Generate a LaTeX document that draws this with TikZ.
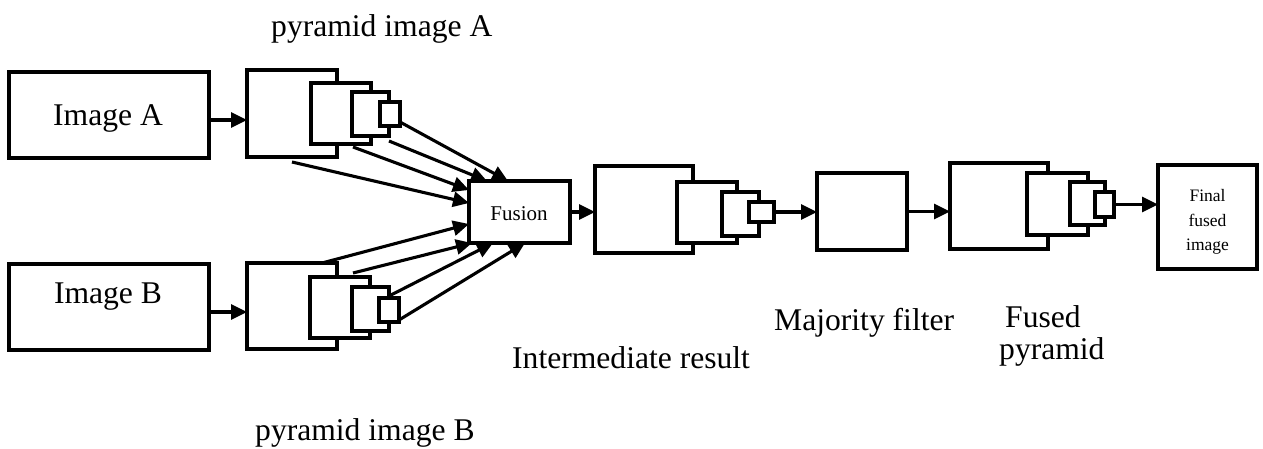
\documentclass[tikz,border=0pt]{standalone}
\usepackage{fontspec}
\setmainfont{Liberation Serif}
\usetikzlibrary{arrows.meta,calc}
\newcommand{\mybox}[5]{\node[bx, minimum width={#4-#2}, minimum height={#5-#3}] (#1) at (#2,#3) {};}
\begin{document}
\begin{tikzpicture}[x=1pt,y=-1pt,
  bx/.style={draw, line width=3.1pt, fill=white, inner sep=0pt, outer sep=0pt, anchor=north west},
  arr/.style={line width=3.1pt, -{Triangle[length=16pt,width=15pt]}},
  lbl/.style={inner sep=0pt, font=\fontsize{31.6}{36}\selectfont},
  sm/.style={inner sep=0pt, font=\fontsize{17.5}{24}\selectfont},
  fs/.style={inner sep=0pt, font=\fontsize{21}{25}\selectfont}]
\useasboundingbox (0,0) rectangle (1263,449);
% input images
\mybox{imgA}{9}{72}{209}{158}
\mybox{imgB}{9}{264}{209}{350}
% pyramid A
\mybox{pA1}{247}{70}{337}{157}
\mybox{pA2}{311}{83}{371}{144}
\mybox{pA3}{352}{92}{389}{136}
\mybox{pA4}{380}{102}{400}{126}
% pyramid B
\mybox{pB1}{247}{263}{337}{349}
\mybox{pB2}{310}{277}{370}{338}
\mybox{pB3}{352}{287}{389}{331}
\mybox{pB4}{379}{298}{399}{322}
% fusion
\mybox{fus}{469}{181}{570}{243}
% intermediate result
\mybox{iA1}{595}{166}{693}{253}
\mybox{iA2}{677}{182}{737}{243}
\mybox{iA3}{722}{192}{759}{236}
\mybox{iA4}{749}{202}{774}{222}
% majority filter
\mybox{maj}{817}{173}{907}{250}
% fused pyramid
\mybox{fp1}{950}{163}{1048}{249}
\mybox{fp2}{1027}{173}{1088}{235}
\mybox{fp3}{1070}{182}{1105}{225}
\mybox{fp4}{1095}{192}{1114}{217}
% final
\mybox{fin}{1158}{165}{1257}{269}
% connectors
\coordinate (yA) at (0,120);
\coordinate (yB) at (0,312);
\draw[arr] (imgA.east |- yA) -- (pA1.west |- yA);
\draw[arr] (imgB.east |- yB) -- (pB1.west |- yB);
\draw[arr] ($(pA4.south east)+(0,-4)$) -- ($(fus.north west)+(39,0)$);
\draw[arr] ($(pA3.south east)+(0,5)$) -- ($(fus.north west)+(18,0)$);
\draw[arr] ($(pA2.south west)+(42,3)$) -- ($(fus.north west)+(0,9)$);
\draw[arr] ($(pA1.south west)+(45,5)$) -- ($(fus.north west)+(0,22)$);
\draw[arr] ($(pB1.north west)+(75,0)$) -- ($(fus.north west)+(0,43)$);
\draw[arr] ($(pB2.north west)+(43,-4)$) -- ($(fus.south west)+(3,0)$);
\draw[arr] ($(pB3.north east)+(0,9)$) -- ($(fus.south west)+(24,0)$);
\draw[arr] ($(pB4.south east)+(0,-2)$) -- ($(fus.south west)+(56,0)$);
\draw[arr] (fus.east) -- (fus.east -| iA1.west);
\draw[arr] (iA4.east) -- (iA4.east -| maj.west);
\draw[arr] (maj.east) -- (maj.east -| fp1.west);
\draw[arr] (fp4.east) -- (fp4.east -| fin.west);
% labels
\node[lbl, anchor=base west] (tA) at (271,37) {pyramid image A};
\node[lbl, anchor=base west] (tB) at (255,440) {pyramid image B};
\node[lbl, anchor=base] (timgA) at (108,126) {Image A};
\node[lbl, anchor=base] (timgB) at (108,303) {Image B};
\node[fs, anchor=base] (tfus) at (519,220) {Fusion};
\node[lbl, anchor=base west] (tint) at (512,368) {Intermediate result};
\node[lbl, anchor=base west] (tmaj) at (774,330) {Majority filter};
\node[lbl, anchor=base west] (tfp1) at (1005,327) {Fused};
\node[lbl, anchor=base west] (tfp2) at (999,359) {pyramid};
\node[sm, anchor=base] (tf1) at (1207.5,202) {Final};
\node[sm, anchor=base] (tf2) at (1207.5,226) {fused};
\node[sm, anchor=base] (tf3) at (1207.5,250) {image};
\end{tikzpicture}
\end{document}
